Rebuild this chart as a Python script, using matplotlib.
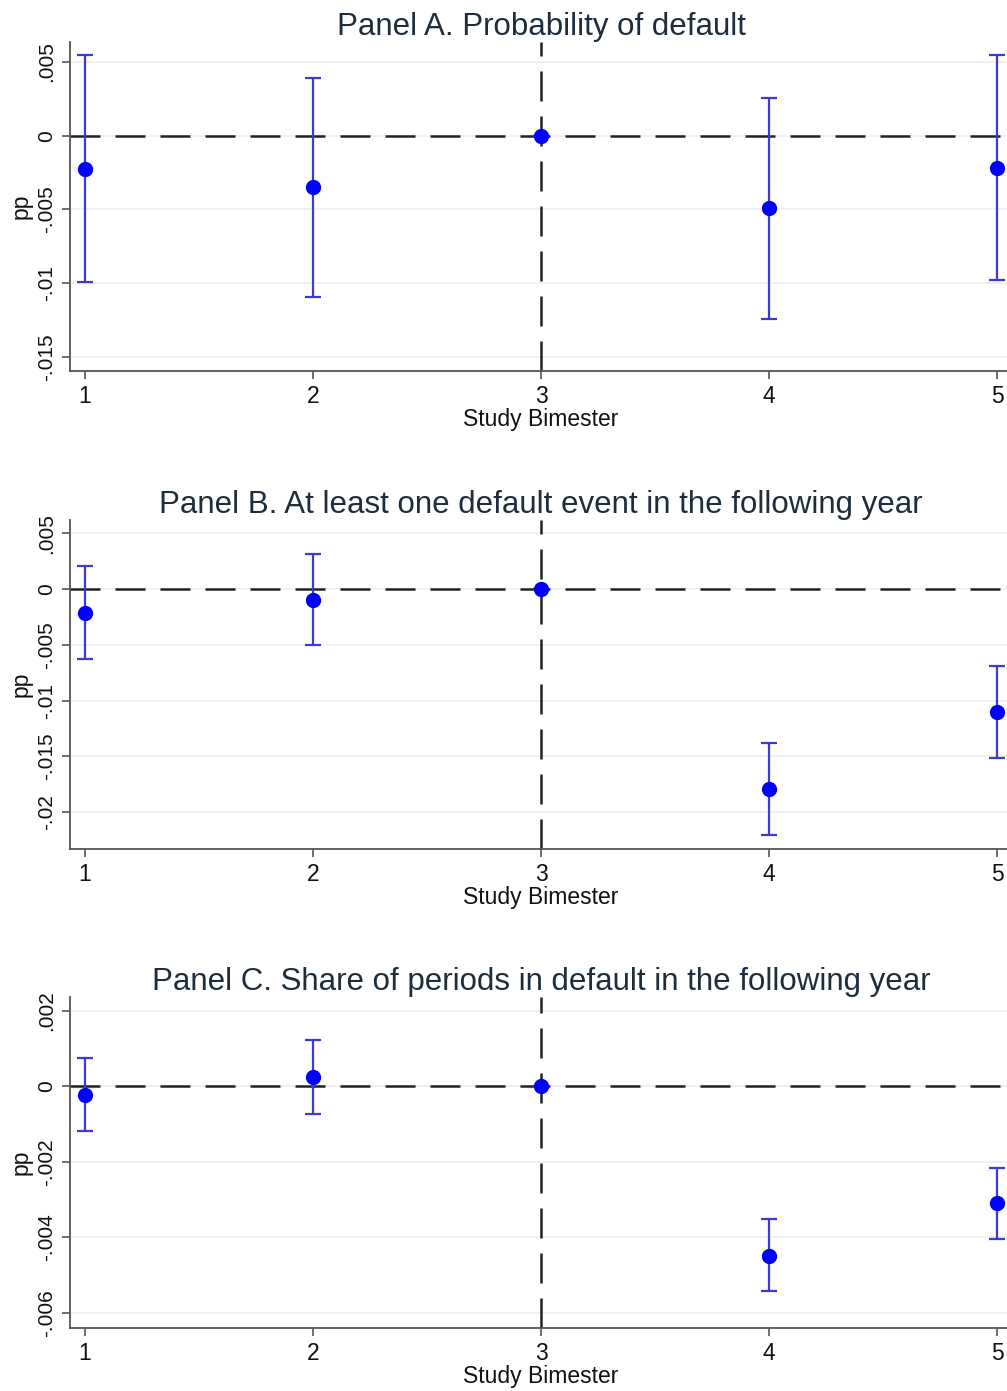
import numpy as np
import matplotlib.pyplot as plt

plt.rcParams['font.family'] = ['Liberation Sans', 'DejaVu Sans']

# Event-study coefficients by study bimester (bimester 3 is the omitted base)
bimester = [1, 2, 3, 4, 5]

titles = ['Panel A. Probability of default',
          'Panel B. At least one default event in the following year',
          'Panel C. Share of periods in default in the following year']

coef_a = [-0.00223, -0.00351, 0.0, -0.00493, -0.00216]
lo_a = [-0.00993, -0.01095, 0.0, -0.01243, -0.0098]
hi_a = [0.00547, 0.00392, 0.0, 0.00257, 0.00547]

coef_b = [-0.00215, -0.00099, 0.0, -0.0179, -0.0110]
lo_b = [-0.00627, -0.0050, 0.0, -0.0220, -0.0151]
hi_b = [0.00206, 0.00314, 0.0, -0.0138, -0.0069]

coef_c = [-0.00024, 0.00024, 0.0, -0.00448, -0.0031]
lo_c = [-0.00117, -0.00072, 0.0, -0.00543, -0.00405]
hi_c = [0.00074, 0.00122, 0.0, -0.00352, -0.00215]

yticks_a = [-0.015, -0.01, -0.005, 0, 0.005]
ytlab_a = ['-.015', '-.01', '-.005', '0', '.005']
yticks_b = [-0.02, -0.015, -0.01, -0.005, 0, 0.005]
ytlab_b = ['-.02', '-.015', '-.01', '-.005', '0', '.005']
yticks_c = [-0.006, -0.004, -0.002, 0, 0.002]
ytlab_c = ['-.006', '-.004', '-.002', '0', '.002']

panels = [
    (coef_a, lo_a, hi_a, yticks_a, ytlab_a, (-0.01595, 0.00635), [0.0695, 0.7333, 0.9355, 0.2365]),
    (coef_b, lo_b, hi_b, yticks_b, ytlab_b, (-0.0233, 0.00617), [0.0695, 0.3896, 0.9355, 0.2365]),
    (coef_c, lo_c, hi_c, yticks_c, ytlab_c, (-0.0064, 0.00237), [0.0695, 0.0453, 0.9355, 0.2380]),
]

fig = plt.figure(figsize=(10.07, 13.91), dpi=100)

for title, (coef, lo, hi, yt, ytl, ylim, pos) in zip(titles, panels):
    ax = fig.add_axes(pos)
    coef = np.array(coef)
    err = np.vstack([coef - np.array(lo), np.array(hi) - coef])
    ax.errorbar(bimester, coef, yerr=err, fmt='none', ecolor='#3a3ad8',
                elinewidth=1.6, capsize=6, capthick=1.6, zorder=3)
    ax.plot(bimester, coef, 'o', color='#0000ff', markersize=10, zorder=4)
    ax.axhline(0, color='#222222', lw=1.8, dashes=(12, 6), zorder=2)
    ax.axvline(3, color='#222222', lw=1.8, dashes=(12, 6), zorder=2)

    ax.set_xlim(0.934, 5.066)
    ax.set_ylim(*ylim)
    ax.set_xticks(bimester)
    ax.set_yticks(yt)
    ax.set_yticklabels(ytl, rotation=90, va='center')
    ax.grid(axis='y', color='#eeeeee', lw=1.2, zorder=0)
    ax.set_axisbelow(True)
    for s in ['top', 'right']:
        ax.spines[s].set_visible(False)
    for s in ['left', 'bottom']:
        ax.spines[s].set_color('#555555')
        ax.spines[s].set_linewidth(1.3)
    ax.tick_params(colors='#555555', labelcolor='#111111', length=6, width=1.2)
    ax.tick_params(axis='x', labelsize=16.5, pad=4)
    ax.tick_params(axis='y', labelsize=15, pad=4)
    ax.set_title(title, fontsize=22.5, color='#1e2d3c', pad=0)
    ax.set_xlabel('Study Bimester', fontsize=16.5, color='#111111', labelpad=0)
    ax.set_ylabel('pp', fontsize=16.5, color='#111111', labelpad=3)

fig.savefig('out.png', dpi=100)
